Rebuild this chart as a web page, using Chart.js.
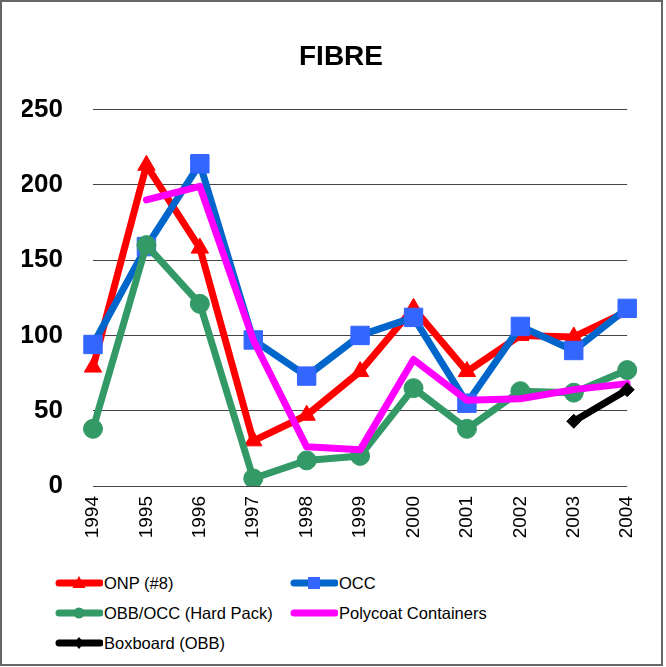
<!DOCTYPE html>
<html>
<head>
<meta charset="utf-8">
<script src="https://cdn.jsdelivr.net/npm/chart.js@4/dist/chart.umd.min.js"></script>
<style>
  body { margin: 0; background: #fff; font-family: "Liberation Sans", Arial, sans-serif; }
  #frame { position: absolute; left: 0; top: 0; width: 659px; height: 662px; border: 2px solid #666; background: #fff; }
  #wrap { position: absolute; left: 0; top: 2px; width: 658px; height: 560px; }
  #legend { position: absolute; left: 0; top: 566px; width: 658px; }
  .item { position: absolute; height: 30px; display: flex; align-items: center; font-size: 16.5px; color: #000; white-space: nowrap; }
  .item canvas { margin-right: 1px; }
</style>
</head>
<body>
<div id="frame">
  <div id="wrap"><canvas id="myChart"></canvas></div>
  <div id="legend"></div>
</div>
<script>
// data
var years = ['1994','1995','1996','1997','1998','1999','2000','2001','2002','2003','2004'];
var onp = [79, 213, 158, 30, 47, 76, 118, 76, 100, 99, 116];
var occ = [94, 159, 214, 97, 73, 100, 112, 55, 106, 90, 118];
var obbOcc = [38, 160, 121, 5, 17, 20, 65, 38, 63, 62, 77];
var polycoat = [null, 190, 199, 97, 26, 24, 84, 57, 58, 64, 68];
var boxboard = [null, null, null, null, null, null, null, null, null, 43, 64];
var yTicks = [0, 50, 100, 150, 200, 250];

var font = '"Liberation Sans", Arial, sans-serif';

var series = [
  { label: 'ONP (#8)', data: onp, line: '#FF0000', fill: '#FF0000', style: 'triangle', r: 10, order: 5 },
  { label: 'OCC', data: occ, line: '#0066CC', fill: '#3366FF', style: 'rect', r: 13, order: 4 },
  { label: 'OBB/OCC (Hard Pack)', data: obbOcc, line: '#339966', fill: '#339966', style: 'circle', r: 9.5, order: 3 },
  { label: 'Polycoat Containers', data: polycoat, line: '#FF00FF', fill: '#FF00FF', style: false, r: 0, order: 2 },
  { label: 'Boxboard (OBB)', data: boxboard, line: '#000000', fill: '#000000', style: 'rectRot', r: 7, order: 1 }
];

var datasets = series.map(function(s){
  return {
    label: s.label,
    data: s.data,
    borderColor: s.line,
    backgroundColor: s.fill,
    borderWidth: 7,
    borderJoinStyle: 'round',
    borderCapStyle: 'round',
    tension: 0,
    pointStyle: s.style,
    pointRadius: s.r,
    pointHoverRadius: s.r,
    pointBackgroundColor: s.fill,
    pointBorderColor: s.fill,
    pointBorderWidth: 1,
    order: s.order
  };
});

var ctx = document.getElementById('myChart').getContext('2d');
window.myChart = new Chart(ctx, {
  type: 'line',
  data: { labels: years, datasets: datasets },
  options: {
    responsive: true,
    maintainAspectRatio: false,
    animation: false,
    layout: { padding: { left: 20, right: 0, top: 0, bottom: 0 } },
    plugins: {
      legend: { display: false },
      tooltip: { enabled: false },
      title: {
        display: true,
        text: 'FIBRE',
        color: '#000',
        font: { family: font, size: 28, weight: 'bold' },
        padding: { top: 36, bottom: 36 }
      }
    },
    scales: {
      x: {
        offset: false,
        grid: { display: false, drawTicks: false },
        border: { display: false },
        ticks: {
          color: '#000',
          font: { family: font, size: 19 },
          minRotation: 90,
          maxRotation: 90,
          autoSkip: false,
          padding: 10
        },
        afterFit: function(scale){ scale.height = 78; }
      },
      y: {
        min: 0,
        max: 250,
        grid: { color: '#444', lineWidth: 1, drawTicks: false },
        border: { display: false },
        afterBuildTicks: function(scale){ scale.ticks = yTicks.map(function(v){ return { value: v }; }); },
        ticks: {
          color: '#000',
          font: { family: font, size: 26, weight: 'bold' },
          padding: 30
        },
        afterFit: function(scale){ scale.width = 71; }
      },
      // empty right axis, only keeps room on the right side
      yRight: {
        position: 'right',
        min: 0,
        max: 250,
        grid: { display: false, drawTicks: false },
        border: { display: false },
        ticks: { display: false },
        afterFit: function(scale){ scale.width = 30; }
      }
    }
  }
});

// legend: line with marker, two columns
function drawIcon(c, s){
  var g = c.getContext('2d');
  g.strokeStyle = s.line;
  g.lineWidth = 7;
  g.lineCap = 'round';
  g.beginPath(); g.moveTo(4, 10); g.lineTo(45, 10); g.stroke();
  g.fillStyle = s.fill;
  var x = 24, y = 10;
  g.beginPath();
  if (s.style === 'triangle') {
    g.moveTo(x, y - 7); g.lineTo(x + 6.5, y + 5); g.lineTo(x - 6.5, y + 5); g.closePath(); g.fill();
  } else if (s.style === 'rect') {
    g.fillRect(x - 6, y - 6, 12, 12);
  } else if (s.style === 'circle') {
    g.arc(x, y, 5.5, 0, Math.PI * 2); g.fill();
  } else if (s.style === 'rectRot') {
    g.moveTo(x, y - 6); g.lineTo(x + 5, y); g.lineTo(x, y + 6); g.lineTo(x - 5, y); g.closePath(); g.fill();
  }
}

var legend = document.getElementById('legend');
var pos = [[53, 0], [288, 0], [53, 30], [288, 30], [53, 60]];
series.forEach(function(s, i){
  var item = document.createElement('div');
  item.className = 'item';
  item.style.left = pos[i][0] + 'px';
  item.style.top = pos[i][1] + 'px';
  var c = document.createElement('canvas');
  c.width = 48; c.height = 20;
  drawIcon(c, s);
  item.appendChild(c);
  var t = document.createElement('span');
  t.textContent = s.label;
  item.appendChild(t);
  legend.appendChild(item);
});
</script>
</body>
</html>
